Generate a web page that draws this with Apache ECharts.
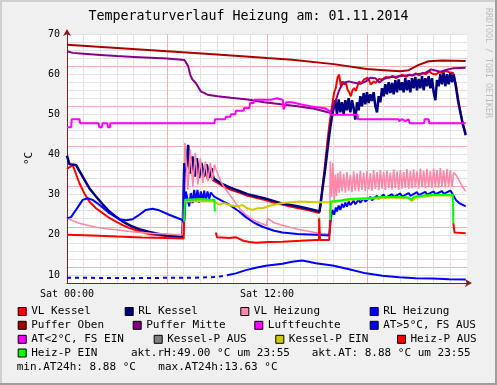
<!DOCTYPE html>
<html><head><meta charset="utf-8">
<script src="https://cdn.jsdelivr.net/npm/echarts@6/dist/echarts.min.js"></script>
<style>html,body{margin:0;padding:0;background:#f0f0f0;}#c{width:497px;height:385px;}</style>
</head><body><div id="c"></div>
<script>
const titleText = 'Temperaturverlauf Heizung am: 01.11.2014';
const yLabelValues = [10, 20, 30, 40, 50, 60, 70];
const xTickLabels = {0: 'Sat 00:00', 12: 'Sat 12:00'};
const aktRH = '49.00', aktAT = ' 8.88', aktTime = '23:55', minAT = ' 8.88', maxAT = '13.63';

// [hour, value]
const vlKessel = [[0,36.4],[0.1,36.5],[0.34,37.4],[0.74,32.9],[1.04,30.3],[1.34,28.3],[1.74,26.6],[2.14,25.4],[2.54,24.2],[2.94,23.3],[3.34,22.4],[3.74,21.7],[4.24,21.0],[4.73,20.4],[5.23,20.0],[5.73,19.75],[6.33,19.45],[6.93,19.2],[7.02,19.2],[7.06,35.5],[7.15,36.8],[7.28,38.5],[7.4,35.2],[7.52,37.6],[7.64,34.8],[7.76,37.0],[7.9,34.5],[8.03,36.6],[8.17,34.2],[8.3,36.0],[8.45,33.8],[8.6,35.5],[8.75,33.6],[8.85,33.3],[9.23,32.4],[9.83,31.2],[10.33,30.5],[10.83,29.7],[11.33,29.2],[11.83,28.7],[12.33,28.1],[12.83,27.6],[13.33,27.1],[13.83,26.7],[14.5,26.1],[15.13,25.4],[15.23,27.5],[15.33,32.0],[15.43,35.5],[15.53,39.5],[15.63,43.5],[15.73,47.0],[15.83,50.0],[15.93,52.8],[16.03,55.5],[16.13,56.6],[16.23,59.1],[16.33,59.9],[16.43,57.0],[16.53,58.2],[16.63,57.4],[16.73,58.0],[16.83,56.2],[16.93,55.5],[17.03,54.5],[17.13,56.0],[17.23,56.5],[17.33,55.8],[17.53,58.2],[17.63,57.6],[17.83,58.7],[18.03,59.1],[18.13,58.4],[18.23,57.4],[18.4,58.2],[18.53,57.8],[18.7,58.8],[18.93,58.7],[19.13,59.3],[19.33,59.1],[19.53,59.6],[19.73,59.0],[19.93,59.5],[20.13,59.9],[20.33,59.3],[20.53,59.9],[20.73,59.6],[20.93,60.2],[21.13,59.7],[21.33,60.3],[21.53,60.0],[21.73,60.7],[21.93,60.1],[22.13,59.9],[22.33,60.5],[22.53,60.3],[22.73,60.8],[22.93,60.5],[23.05,60.7],[23.17,60.3],[23.33,57.5],[23.5,53.0],[23.7,48.5],[23.92,45.2]];

const rlKessel = [[0,39.7],[0.1,39.6],[0.14,37.6],[0.24,37.9],[0.54,37.4],[0.94,34.5],[1.34,31.6],[1.74,29.55],[2.14,27.6],[2.54,25.8],[2.94,24.5],[3.34,23.3],[3.84,22.2],[4.34,21.4],[4.94,20.7],[5.73,20.0],[6.33,19.7],[6.93,19.4],[7.02,19.3],[7.04,37.9],[7.12,36.0],[7.27,42.4],[7.39,35.4],[7.53,39.5],[7.67,34.5],[7.79,39.1],[7.93,34.1],[8.07,37.9],[8.23,34.5],[8.39,37.5],[8.53,34.2],[8.67,36.6],[8.8,34.0],[8.9,33.6],[9.23,32.8],[9.83,31.7],[10.33,30.9],[10.83,30.1],[11.33,29.6],[11.83,29.1],[12.33,28.5],[12.83,27.9],[13.33,27.5],[13.83,27.1],[14.5,26.5],[15.15,25.8],[15.25,29.0],[15.38,33.0],[15.48,36.0],[15.58,39.5],[15.68,43.0],[15.78,46.2],[15.9,49.5],[16.0,49.5],[16.1,53.5],[16.2,50.0],[16.3,53.7],[16.4,50.5],[16.5,53.0],[16.6,50.0],[16.7,53.5],[16.8,51.0],[16.9,54.0],[17.0,50.5],[17.1,53.5],[17.2,51.5],[17.3,48.7],[17.4,53.0],[17.5,51.0],[17.6,54.5],[17.7,52.0],[17.8,55.3],[17.9,52.5],[18.0,55.5],[18.1,52.8],[18.2,55.0],[18.3,53.3],[18.4,55.5],[18.5,52.0],[18.6,50.5],[18.7,54.5],[18.8,53.0],[18.9,56.5],[19.0,54.5],[19.1,57.5],[19.2,55.0],[19.3,58.0],[19.4,55.3],[19.5,57.8],[19.6,55.0],[19.7,58.5],[19.8,55.5],[19.9,58.7],[20.0,56.0],[20.1,58.0],[20.2,55.5],[20.3,59.0],[20.4,56.0],[20.5,58.5],[20.6,55.5],[20.7,59.0],[20.8,56.5],[20.9,59.3],[21.0,56.0],[21.1,58.8],[21.2,56.5],[21.3,59.5],[21.4,56.0],[21.5,59.0],[21.6,57.0],[21.7,59.5],[21.8,56.5],[21.9,59.0],[22.0,55.5],[22.1,53.5],[22.2,58.5],[22.3,57.0],[22.4,60.0],[22.5,57.5],[22.6,60.3],[22.7,57.0],[22.8,60.0],[22.9,57.5],[23.0,60.3],[23.1,58.0],[23.2,59.9],[23.33,57.0],[23.45,53.7],[23.55,51.5],[23.65,49.5],[23.75,47.5],[23.85,46.0],[23.92,44.8]];

const vlHeizung = [[0,24.2],[0.35,23.5],[0.74,22.9],[1.24,22.4],[1.74,21.9],[2.34,21.5],[2.94,21.25],[3.64,20.9],[4.34,20.6],[5.03,20.4],[5.73,20.25],[6.33,20.1],[6.93,20.0],[7.03,20.0],[7.08,42.9],[7.25,31.2],[7.4,41.2],[7.55,32.0],[7.7,40.4],[7.85,32.5],[8.0,39.1],[8.15,32.9],[8.3,38.3],[8.45,33.3],[8.6,37.9],[8.73,33.7],[8.85,37.5],[8.95,36.2],[9.23,33.3],[9.53,31.2],[9.83,29.6],[10.13,27.8],[10.43,26.2],[10.73,25.0],[11.03,24.1],[11.33,23.4],[11.63,22.9],[11.97,22.3],[12.03,24.1],[12.43,23.0],[12.93,22.4],[13.43,21.8],[13.83,21.4],[14.33,21.0],[14.83,20.6],[15.3,20.3],[15.75,20.1],[15.8,38.3],[15.88,29.5],[15.95,37.9],[16.03,28.7],[16.1,35.0],[16.17,29.6],[16.25,35.4],[16.33,30.4],[16.4,35.8],[16.5,30.8],[16.6,35.2],[16.7,30.5],[16.8,35.6],[16.9,31.0],[17.0,35.0],[17.1,30.6],[17.2,35.8],[17.3,31.0],[17.4,35.3],[17.5,30.8],[17.6,36.0],[17.7,31.2],[17.8,35.5],[17.9,30.9],[18.0,35.9],[18.1,31.3],[18.2,35.4],[18.3,31.0],[18.4,36.1],[18.5,31.4],[18.6,35.6],[18.7,31.1],[18.8,36.2],[18.9,31.5],[19.0,35.7],[19.1,31.2],[19.2,36.0],[19.3,31.6],[19.4,35.5],[19.5,31.3],[19.6,36.3],[19.7,31.6],[19.8,35.8],[19.9,31.2],[20.0,36.2],[20.1,31.5],[20.2,35.6],[20.3,31.7],[20.4,36.4],[20.5,31.4],[20.6,35.9],[20.7,31.6],[20.8,36.3],[20.9,31.8],[21.0,35.8],[21.1,31.5],[21.2,36.5],[21.3,31.8],[21.4,36.0],[21.5,31.6],[21.6,36.4],[21.7,31.9],[21.8,35.9],[21.9,31.6],[22.0,36.5],[22.1,31.8],[22.2,36.1],[22.3,31.7],[22.4,36.6],[22.5,32.0],[22.6,36.0],[22.7,31.8],[22.8,36.4],[22.9,31.9],[23.0,36.2],[23.1,32.0],[23.2,35.5],[23.33,35.0],[23.53,33.5],[23.72,32.05],[23.92,30.8]];

const rlHeizung = [[0,24.15],[0.24,24.4],[0.54,26.2],[0.94,28.7],[1.24,29.1],[1.54,28.7],[1.94,27.5],[2.54,25.4],[3.14,23.9],[3.54,23.6],[3.94,23.9],[4.34,25.0],[4.73,26.2],[5.13,26.5],[5.53,26.1],[6.13,25.0],[6.93,23.7],[7.0,23.0],[7.02,37.9],[7.05,23.5],[7.13,30.8],[7.23,31.2],[7.33,27.1],[7.43,30.4],[7.53,27.9],[7.63,31.2],[7.73,28.3],[7.83,31.2],[7.93,28.0],[8.03,30.8],[8.13,28.3],[8.23,31.0],[8.33,28.5],[8.43,30.8],[8.53,29.0],[8.63,30.5],[8.83,29.5],[8.93,29.2],[9.33,28.4],[9.73,27.5],[10.33,25.8],[10.73,24.4],[11.23,23.0],[11.73,22.0],[12.43,21.0],[12.93,20.6],[13.83,20.2],[14.93,20.0],[15.73,19.8],[15.8,19.8],[15.85,24.6],[15.93,26.2],[16.03,25.0],[16.13,26.8],[16.2,25.8],[16.3,27.3],[16.4,26.2],[16.5,27.7],[16.6,26.8],[16.7,28.0],[16.8,27.0],[16.9,28.3],[17.0,27.4],[17.2,28.5],[17.3,27.6],[17.5,28.8],[17.6,28.0],[17.8,29.1],[17.9,28.3],[18.2,29.4],[18.3,28.6],[18.6,29.7],[18.7,29.0],[19.0,30.0],[19.1,29.2],[19.5,30.1],[19.6,29.4],[20.0,30.3],[20.1,29.5],[20.5,30.4],[20.6,29.7],[21.0,30.6],[21.1,29.9],[21.5,30.7],[21.6,30.0],[22.0,30.8],[22.1,30.1],[22.5,30.9],[22.6,30.2],[23.0,31.0],[23.1,30.4],[23.2,30.8],[23.33,28.7],[23.53,27.9],[23.72,27.5],[23.92,27.07]];

const pufferOben = [[0,67.3],[3,66.5],[6,65.7],[9,64.9],[12,64.0],[13.5,63.6],[16,62.5],[18,61.3],[19,61.0],[20,60.7],[20.5,61.0],[21.1,62.3],[21.7,63.2],[22.5,63.4],[23.92,63.3]];

const pufferMitte = [[0,65.7],[0.35,65.3],[1,65.1],[2,64.8],[3,64.5],[4,64.3],[5,64.1],[6,63.9],[7.05,63.5],[7.27,62.0],[7.39,59.9],[7.53,58.65],[7.73,57.8],[8.03,55.7],[8.43,54.9],[9.03,54.5],[9.83,54.1],[10.83,53.7],[11.83,53.0],[12.83,52.5],[13.83,52.0],[14.83,51.4],[15.6,50.6],[15.8,50.4],[15.93,51.5],[16.13,53.5],[16.3,55.7],[16.55,57.8],[16.9,58.2],[17.3,57.8],[17.6,57.6],[17.93,58.2],[18.2,59.1],[18.5,59.0],[18.75,57.9],[19.0,58.8],[19.3,59.2],[19.8,59.4],[20.5,59.7],[21.0,60.0],[21.5,60.3],[21.85,61.2],[22.1,60.9],[22.4,60.6],[22.8,61.1],[23.2,61.5],[23.92,61.6]];

const luftfeuchte = [[0,46.8],[0.25,46.8],[0.28,48.8],[0.75,48.8],[0.78,47.8],[1.9,47.8],[1.93,46.8],[2.1,46.8],[2.13,47.8],[2.42,47.8],[2.45,46.8],[2.58,46.8],[2.6,47.8],[8.85,47.8],[8.88,48.8],[9.5,48.8],[9.53,49.4],[9.8,49.4],[9.83,50.0],[10.1,50.0],[10.13,50.9],[10.6,50.9],[10.63,51.6],[10.95,51.6],[10.98,52.8],[11.2,52.8],[11.23,53.6],[12.2,53.6],[12.23,54.0],[12.6,54.0],[12.63,53.6],[12.95,53.6],[13.0,51.2],[13.1,51.2],[13.15,53.0],[13.5,53.0],[13.55,52.7],[14.0,52.5],[14.5,52.1],[14.83,51.8],[15.5,51.5],[15.53,51.2],[15.75,50.8],[15.83,49.9],[17.43,49.9],[17.46,48.8],[19.9,48.8],[19.93,48.3],[20.1,48.8],[20.3,48.3],[20.5,48.8],[20.55,47.8],[21.43,47.8],[21.46,48.8],[21.7,48.8],[21.73,47.8],[23.92,47.8]];

const atEarly = [[0,9.3],[1,9.3],[2,9.25],[3,9.25],[4,9.2],[5,9.25],[6,9.3],[7,9.3],[8,9.35],[9,9.5],[9.6,9.95]];
const atLate = [[9.6,9.95],[10.13,10.4],[10.73,11.2],[11.33,11.8],[11.93,12.3],[12.93,12.8],[13.5,13.3],[14.1,13.6],[14.5,13.3],[14.93,12.9],[15.93,12.35],[16.93,11.4],[17.93,10.4],[18.93,9.8],[19.93,9.45],[20.93,9.2],[21.93,9.1],[22.93,8.95],[23.92,8.88]];

const kesselPEin = [[7.08,28.3],[8.0,28.4],[8.83,28.3],[8.9,27.9],[9.13,27.5],[9.43,27.9],[9.83,27.3],[10.23,27.05],[10.53,27.4],[10.83,26.6],[11.13,26.2],[11.43,26.6],[11.73,26.6],[12.23,27.3],[12.93,27.9],[13.93,28.3],[15.13,28.1],[15.83,28.1],[16.93,28.7],[17.93,28.9],[18.93,29.2],[19.93,29.2],[20.5,29.1],[20.7,28.4],[20.9,29.2],[21.93,29.8],[22.93,29.8],[23.15,29.8]];

const heizPAus = [[0,20.0],[1.5,19.8],[3,19.55],[4.5,19.35],[6,19.2],[7.0,19.05],[7.03,23.3],[7.05,null],[8.93,20.6],[9.0,19.4],[9.73,19.2],[10.13,19.4],[10.53,18.6],[10.93,18.2],[11.33,18.0],[12.13,18.2],[12.93,18.3],[14.0,18.5],[14.93,18.7],[15.12,18.7],[15.13,24.1],[15.17,24.1],[15.18,18.7],[15.73,18.7],[15.8,23.7],[15.85,null],[23.18,22.9],[23.25,20.6],[23.35,20.4],[23.92,20.4]];

const heizPEin = [[7.03,23.3],[7.08,28.7],[7.5,28.8],[8.0,28.9],[8.5,28.7],[8.85,28.7],[8.87,25.8],[8.9,null],[15.13,24.1],[15.17,24.3],[15.2,null],[15.8,23.7],[15.83,28.3],[16.5,28.6],[16.93,28.9],[17.93,29.1],[18.93,29.4],[19.93,29.4],[20.5,29.3],[20.65,28.7],[20.8,29.4],[21.0,29.6],[21.93,30.0],[22.93,30.0],[23.15,30.0],[23.18,22.9]];

const kesselPAus = [];
const atUnder2 = [];

const legendNames = ['VL Kessel','RL Kessel','VL Heizung','RL Heizung','Puffer Oben','Puffer Mitte','Luftfeuchte','AT>5°C, FS AUS','AT<2°C, FS EIN','Kessel-P AUS','Kessel-P EIN','Heiz-P AUS','Heiz-P EIN'];
const colors = {'VL Kessel':'#ff0000','RL Kessel':'#000080','VL Heizung':'#ff88aa','RL Heizung':'#0000ff','Puffer Oben':'#aa0000','Puffer Mitte':'#880088','Luftfeuchte':'#ff00ff','AT>5°C, FS AUS':'#0000ff','AT<2°C, FS EIN':'#ff00ff','Kessel-P AUS':'#808080','Kessel-P EIN':'#cccc00','Heiz-P AUS':'#ff0000','Heiz-P EIN':'#00ff00'};
const legendTextX = [30.7,137.7,253.3,382.7,30.7,145.7,267.3,382.7,30.7,166.7,288.3,410,30.7];
const legendRow = [0,0,0,0,1,1,1,1,2,2,2,2,3];
const rowY = [311.5,325.3,339.3,353,367];

const F = 'DejaVu Sans Mono';
const GRID_MINOR = '#e2e2e2', GRID_MAJOR = '#f2b0b0', AXIS = '#802020';

function line(name, data, extra) {
  const c = colors[name];
  return Object.assign({
    type: 'line', name: name, data: data, symbol: 'none', showSymbol: false,
    lineStyle: {color: c, width: 2}, itemStyle: {color: c},
    emphasis: {disabled: true}, silent: true, animation: false
  }, extra || {});
}

const series = [
  line('VL Kessel', vlKessel),
  line('RL Kessel', rlKessel, {lineStyle: {color: colors['RL Kessel'], width: 2.5}}),
  line('VL Heizung', vlHeizung, {lineStyle: {color: colors['VL Heizung'], width: 1.6}}),
  line('RL Heizung', rlHeizung),
  line('Puffer Oben', pufferOben),
  line('Puffer Mitte', pufferMitte),
  line('Luftfeuchte', luftfeuchte),
  line('AT>5°C, FS AUS', atEarly, {lineStyle: {color: colors['AT>5°C, FS AUS'], width: 2, type: [4, 4]}}),
  line('AT>5°C, FS AUS', atLate),
  line('AT<2°C, FS EIN', atUnder2),
  line('Kessel-P AUS', kesselPAus),
  line('Kessel-P EIN', kesselPEin),
  line('Heiz-P AUS', heizPAus),
  line('Heiz-P EIN', heizPEin)
];

const legends = legendNames.map((n, i) => ({
  data: [n], left: legendTextX[i] - 13, top: rowY[legendRow[i]] - 5.5, padding: 0,
  itemWidth: 8, itemHeight: 8, itemGap: 0, icon: 'rect', selectedMode: false,
  itemStyle: {borderColor: '#000', borderWidth: 1},
  textStyle: {fontFamily: F, fontSize: 11, color: '#000', lineHeight: 11}
}));

const infoTexts = [
  {x: 131, y: rowY[3], text: 'akt.rH:' + aktRH + ' °C um ' + aktTime},
  {x: 311.7, y: rowY[3], text: 'akt.AT:' + aktAT + ' °C um ' + aktTime},
  {x: 16.7, y: rowY[4], text: 'min.AT24h:' + minAT + ' °C'},
  {x: 158.3, y: rowY[4], text: 'max.AT24h:' + maxAT + ' °C'}
];

const chart = echarts.init(document.getElementById('c'), null, {renderer: 'canvas'});
chart.setOption({
  animation: false,
  backgroundColor: '#f0f0f0',
  title: {text: titleText, left: 'center', top: 10, padding: 0,
    textStyle: {fontFamily: F, fontSize: 13.3, fontWeight: 'normal', color: '#000'}},
  grid: {left: 67, top: 34, width: 400, height: 249, show: true, backgroundColor: '#ffffff', borderWidth: 0},
  xAxis: {
    type: 'value', min: 0, max: 24, interval: 1,
    axisLine: {onZero: false, lineStyle: {color: AXIS, width: 1}, symbol: ['none', 'arrow'], symbolSize: [6, 7], symbolOffset: [0, 5]},
    axisTick: {show: false},
    axisLabel: {interval: 0, fontFamily: F, fontSize: 10, color: '#000', margin: 6,
      formatter: v => xTickLabels[v] || ''},
    splitLine: {show: true, showMaxLine: false, lineStyle: {width: 1, color: [GRID_MAJOR, GRID_MINOR, GRID_MINOR, GRID_MINOR, GRID_MINOR, GRID_MINOR]}}
  },
  yAxis: {
    type: 'value', min: 8, max: 70, interval: 2,
    name: '°C', nameLocation: 'middle', nameGap: 32, nameRotate: 90,
    nameTextStyle: {fontFamily: F, fontSize: 11, color: '#000'},
    axisLine: {show: true, lineStyle: {color: AXIS, width: 1}, symbol: ['none', 'arrow'], symbolSize: [6, 7], symbolOffset: [0, 5]},
    axisTick: {show: false},
    axisLabel: {fontFamily: F, fontSize: 10, color: '#000', margin: 7,
      formatter: v => yLabelValues.indexOf(v) >= 0 ? String(v) : ''},
    splitLine: {show: true, showMinLine: false, lineStyle: {width: 1, color: [GRID_MINOR, GRID_MAJOR, GRID_MINOR, GRID_MINOR, GRID_MINOR]}}
  },
  legend: legends,
  series: series,
  graphic: [
    {type: 'rect', silent: true, shape: {x: 0, y: 0, width: 497, height: 2}, style: {fill: '#cfcfcf'}},
    {type: 'rect', silent: true, shape: {x: 0, y: 0, width: 2, height: 385}, style: {fill: '#cfcfcf'}},
    {type: 'rect', silent: true, shape: {x: 0, y: 383, width: 497, height: 2}, style: {fill: '#9e9e9e'}},
    {type: 'rect', silent: true, shape: {x: 495, y: 0, width: 2, height: 385}, style: {fill: '#9e9e9e'}},
    {type: 'text', silent: true, x: 488, y: 8, rotation: -Math.PI / 2,
      style: {text: 'RRDTOOL / TOBI OETIKER', font: '8.3px "DejaVu Sans Mono"', fill: '#bdbdbd', textAlign: 'left', textVerticalAlign: 'middle'}}
  ].concat(infoTexts.map(t => ({type: 'text', silent: true, x: t.x, y: t.y,
      style: {text: t.text, font: '11px "DejaVu Sans Mono"', fill: '#000', textAlign: 'left', textVerticalAlign: 'middle'}})))
});
</script>
</body></html>
